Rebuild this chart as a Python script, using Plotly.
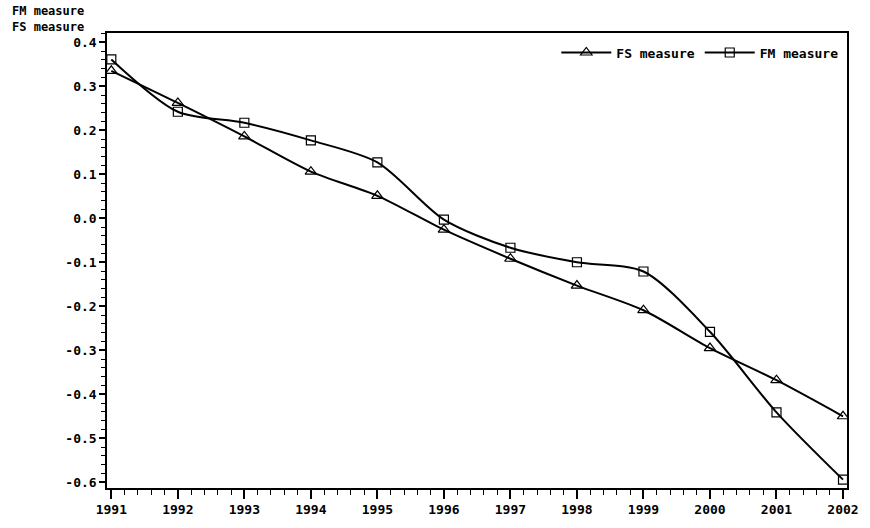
import plotly.graph_objects as go

years = [1991, 1992, 1993, 1994, 1995, 1996, 1997, 1998, 1999, 2000, 2001, 2002]
fs_measure = [0.335, 0.262, 0.186, 0.106, 0.051, -0.026, -0.092, -0.153, -0.209, -0.295, -0.368, -0.450]
fm_measure = [0.361, 0.242, 0.217, 0.177, 0.127, -0.003, -0.067, -0.100, -0.121, -0.258, -0.441, -0.594]
x_ticks = list(range(1991, 2003))
y_ticks = [0.4, 0.3, 0.2, 0.1, 0.0, -0.1, -0.2, -0.3, -0.4, -0.5, -0.6]
y_tick_text = ["%.1f" % v for v in y_ticks]

FONT = "DejaVu Sans Mono"

fig = go.Figure()
fig.add_trace(go.Scatter(
    x=years, y=fs_measure, name="FS measure", mode="lines+markers",
    line=dict(color="black", width=2, shape="spline", smoothing=0.8),
    marker=dict(symbol="triangle-up-open", size=10, color="black", line=dict(width=1.2)),
))
fig.add_trace(go.Scatter(
    x=years, y=fm_measure, name="FM measure", mode="lines+markers",
    line=dict(color="black", width=2, shape="spline", smoothing=0.8),
    marker=dict(symbol="square-open", size=9, color="black", line=dict(width=1.2)),
))

axis_common = dict(
    showline=True, linecolor="black", linewidth=1.5, mirror=True,
    showgrid=False, zeroline=False, ticks="outside", tickcolor="black",
    tickfont=dict(family=FONT, size=13, color="black", weight="bold"),
)

fig.update_xaxes(
    range=[1990.935, 2002.06], tickvals=x_ticks, ticktext=[str(v) for v in x_ticks],
    ticklen=9, tickwidth=1.5,
    minor=dict(dtick=0.2, ticks="outside", ticklen=5, tickcolor="black", tickwidth=1),
    **axis_common,
)
fig.update_yaxes(
    range=[-0.613, 0.421], tickvals=y_ticks, ticktext=y_tick_text,
    ticklen=6, tickwidth=1.5,
    minor=dict(dtick=0.02, ticks="outside", ticklen=4, tickcolor="black", tickwidth=1),
    **axis_common,
)

fig.add_annotation(
    text="FM measure<br>FS measure", xref="paper", yref="paper",
    x=-0.131, y=1.0, xanchor="left", yanchor="bottom", showarrow=False, align="left",
    font=dict(family=FONT, size=12, color="black", weight="bold"),
    yshift=-3,
)

fig.update_layout(
    width=870, height=528,
    margin=dict(l=107, r=11, t=33, b=31),
    paper_bgcolor="white", plot_bgcolor="white",
    showlegend=True,
    legend=dict(
        orientation="h", x=0.995, y=0.99, xanchor="right", yanchor="top",
        bgcolor="rgba(0,0,0,0)", font=dict(family=FONT, size=13, color="black", weight="bold"),
        itemwidth=50,
    ),
)

fig.write_html(
    "out.html",
    config={"displayModeBar": False},
    post_script="document.body.style.margin='0';document.body.style.overflow='hidden';",
)
